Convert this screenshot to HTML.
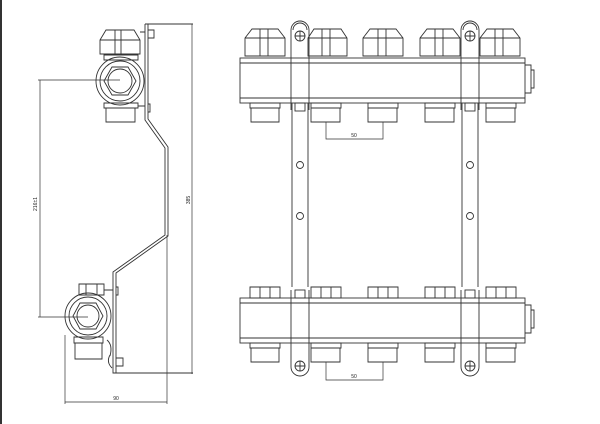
<!DOCTYPE html>
<html><head><style>body{margin:0;background:#fff}svg{display:block}</style></head><body>
<svg width="600" height="424" viewBox="0 0 600 424" xmlns="http://www.w3.org/2000/svg" font-family="Liberation Sans, sans-serif">
<rect width="600" height="424" fill="#fff"/>
<line x1="1" y1="0" x2="1" y2="424" stroke="#333" stroke-width="2"/>
<g fill="none" stroke="#333" stroke-width="0.9">
<path d="M145 24 H193 M145 24 V120 L165 148 V235 L113 272 V373 H193"/>
<path d="M148 24 V119 L168 147 V236 L116 273 V373"/>
<line x1="192" y1="24" x2="192" y2="374" stroke-width="0.7"/>
<line x1="40" y1="80" x2="40" y2="317" stroke-width="0.7"/>
<line x1="38" y1="80" x2="120" y2="80" stroke-width="0.7"/>
<line x1="38" y1="317" x2="88" y2="317" stroke-width="0.7"/>
<line x1="65" y1="402" x2="167" y2="402" stroke-width="0.7"/>
<line x1="65" y1="335" x2="65" y2="404" stroke-width="0.7"/>
<line x1="167" y1="235" x2="167" y2="404" stroke-width="0.7"/>
<path d="M100 40 L106 30 H134 L140 40 V54 H100 Z M100 40 H140 M115 30 V54 M121 30 V54"/>
<path d="M104 55 H138 V60 H104 Z"/>
<circle cx="120" cy="81" r="24"/><circle cx="120" cy="81" r="20"/>
<path d="M112 67 H128 L136 81 L128 95 H112 L104 81 Z"/>
<circle cx="120" cy="81" r="12"/>
<path d="M104 103 H138 V108 H104 Z M106 108 H135 V122 H106 Z"/>
<path d="M140 32 H145 M148 30 H154 V38 H148 M138 106 H145 M148 104 H150 V112 H148"/>
<path d="M79 284 H104 V295 H79 Z M86 284 V295 M97 284 V295 M104 290 H113 M116 287 H118 V295 H116"/>
<circle cx="88" cy="316" r="23"/><circle cx="88" cy="316" r="19"/>
<path d="M80 303 H96 L103 316 L96 329 H80 L73 316 Z"/>
<circle cx="88" cy="316" r="11"/>
<path d="M74 337 H103 V343 H74 Z M75 343 H102 V359 H75 Z"/>
<path d="M107 340 Q113 345 110 356 M116 358 H123 V366 H116 M110 355 Q106 362 112 368"/>
<rect x="240" y="58" width="285" height="45"/>
<line x1="240" y1="63" x2="525" y2="63"/><line x1="240" y1="98" x2="525" y2="98"/>
<path d="M525 65 H531 V93 H525 M531 70 H534 V88 H531"/>
<rect x="240" y="298" width="285" height="45"/>
<line x1="240" y1="303" x2="525" y2="303"/><line x1="240" y1="338" x2="525" y2="338"/>
<path d="M525 305 H531 V333 H525 M531 310 H534 V328 H531"/>
</g>
<g fill="none" stroke="#333" stroke-width="0.9">
<path d="M245 38 L252 29 H278 L285 38 V56 H245 Z M245 38 H285 M260 29 V56 M268 29 V56"/>
<path d="M308 38 L314 29 H341 L347 38 V56 H308 Z M308 38 H347 M322 29 V56 M330 29 V56"/>
<path d="M363 38 L370 29 H396 L403 38 V56 H363 Z M363 38 H403 M378 29 V56 M386 29 V56"/>
<path d="M420 38 L427 29 H453 L460 38 V56 H420 Z M420 38 H460 M435 29 V56 M443 29 V56"/>
<path d="M480 38 L487 29 H513 L520 38 V56 H480 Z M480 38 H520 M495 29 V56 M503 29 V56"/>
<path d="M250 103 H280 V108 H250 Z M251 108 H279 V122 H251 Z"/>
<path d="M311 103 H341 V108 H311 Z M311 108 H340 V122 H311 Z"/>
<path d="M368 103 H398 V108 H368 Z M368 108 H397 V122 H368 Z"/>
<path d="M425 103 H455 V108 H425 Z M425 108 H454 V122 H425 Z"/>
<path d="M486 103 H516 V108 H486 Z M486 108 H515 V122 H486 Z"/>
<path d="M250 287 H280 V298 H250 Z M260 287 V298 M270 287 V298"/>
<path d="M311 287 H341 V298 H311 Z M321 287 V298 M331 287 V298"/>
<path d="M368 287 H398 V298 H368 Z M378 287 V298 M388 287 V298"/>
<path d="M425 287 H455 V298 H425 Z M435 287 V298 M445 287 V298"/>
<path d="M486 287 H516 V298 H486 Z M496 287 V298 M506 287 V298"/>
<path d="M250 343 H280 V348 H250 Z M251 348 H279 V362 H251 Z"/>
<path d="M311 343 H341 V348 H311 Z M311 348 H340 V362 H311 Z"/>
<path d="M368 343 H398 V348 H368 Z M368 348 H397 V362 H368 Z"/>
<path d="M425 343 H455 V348 H425 Z M425 348 H454 V362 H425 Z"/>
<path d="M486 343 H516 V348 H486 Z M486 348 H515 V362 H486 Z"/>
<g>
<path d="M291 110 V30 A9 9 0 0 1 309 30 V110 M293 30 A7 7 0 0 1 307 30"/>
<path d="M292 103 V287 M308 103 V287"/>
<path d="M291 290 V367 A9 9 0 0 0 309 367 V290"/>
<circle cx="300" cy="36" r="5"/><path d="M295 36 H305 M300 31 V41"/>
<circle cx="300" cy="366" r="5"/><path d="M295 366 H305 M300 361 V371"/>
<rect x="295" y="103" width="10" height="8"/><rect x="295" y="290" width="10" height="8"/>
<circle cx="300" cy="165" r="3.5"/><circle cx="300" cy="216" r="3.5"/>
</g>
<g transform="translate(170 0)">
<path d="M291 110 V30 A9 9 0 0 1 309 30 V110 M293 30 A7 7 0 0 1 307 30"/>
<path d="M292 103 V287 M308 103 V287"/>
<path d="M291 290 V367 A9 9 0 0 0 309 367 V290"/>
<circle cx="300" cy="36" r="5"/><path d="M295 36 H305 M300 31 V41"/>
<circle cx="300" cy="366" r="5"/><path d="M295 366 H305 M300 361 V371"/>
<rect x="295" y="103" width="10" height="8"/><rect x="295" y="290" width="10" height="8"/>
<circle cx="300" cy="165" r="3.5"/><circle cx="300" cy="216" r="3.5"/>
</g>
<path d="M326 122 V139 H383 V122" stroke-width="0.7"/>
<path d="M326 362 V380 H383 V362" stroke-width="0.7"/>
</g>
<g font-size="5" fill="#222">
<text x="354" y="137" text-anchor="middle">50</text>
<text x="354" y="378" text-anchor="middle">50</text>
<text x="116" y="400" text-anchor="middle">90</text>
<text transform="translate(37 204) rotate(-90)" text-anchor="middle">216±1</text>
<text transform="translate(190 200) rotate(-90)" text-anchor="middle">385</text>
</g>
</svg>
</body></html>
